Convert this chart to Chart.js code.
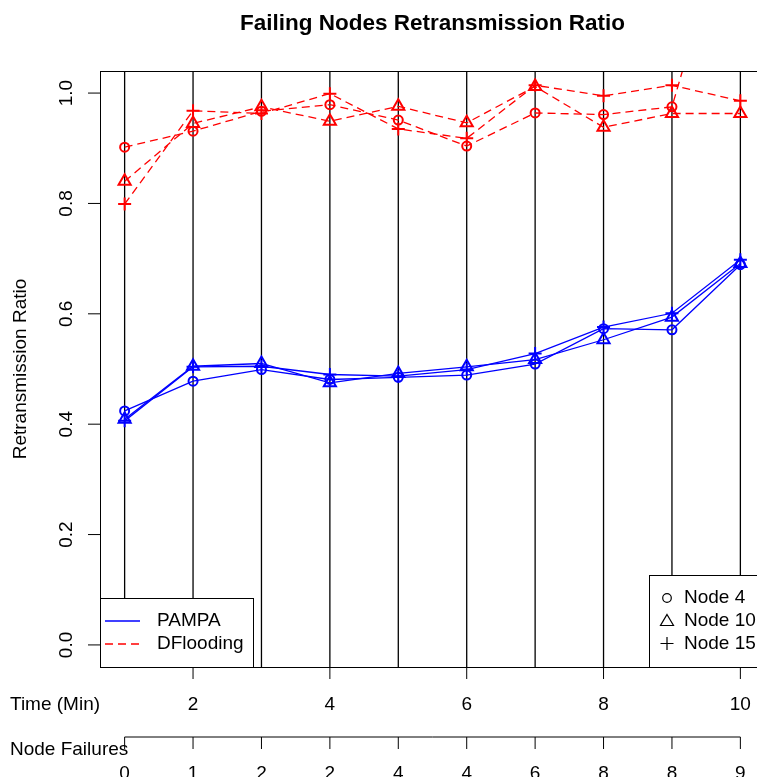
<!DOCTYPE html>
<html>
<head>
<meta charset="utf-8">
<title>Failing Nodes Retransmission Ratio</title>
<script src="https://cdn.jsdelivr.net/npm/chart.js@4.4.1/dist/chart.umd.min.js"></script>
<style>
  html, body { margin: 0; padding: 0; background: #fff; overflow: hidden; }
  #wrap { width: 800px; height: 777px; }
</style>
</head>
<body>
<div id="wrap"><canvas id="chart" width="800" height="777"></canvas></div>
<script>
// x positions (minutes) and the node-failure count shown under each minute
const timeMin      = [1, 2, 3, 4, 5, 6, 7, 8, 9, 10];
const nodeFailures = ['0', '1', '2', '2', '4', '4', '6', '8', '8', '9'];
const timeTicks    = [2, 4, 6, 8, 10];
const ratioTicks   = [0.0, 0.2, 0.4, 0.6, 0.8, 1.0];

// PAMPA (solid blue)
const pampaNode4  = [0.424, 0.478, 0.499, 0.481, 0.485, 0.489, 0.509, 0.573, 0.571, 0.689];
const pampaNode10 = [0.409, 0.505, 0.510, 0.475, 0.492, 0.504, 0.517, 0.553, 0.594, 0.691];
const pampaNode15 = [0.406, 0.504, 0.505, 0.490, 0.487, 0.499, 0.528, 0.576, 0.601, 0.698];

// DFlooding (dashed red)
const dfloodNode4  = [0.902, 0.931, 0.967, 0.979, 0.951, 0.904, 0.964, 0.961, 0.975, 1.400];
const dfloodNode10 = [0.840, 0.945, 0.975, 0.949, 0.976, 0.946, 1.012, 0.938, 0.963, 0.963];
const dfloodNode15 = [0.799, 0.968, 0.963, 0.999, 0.935, 0.918, 1.014, 0.995, 1.014, 0.986];

const FONT = "'Liberation Sans', Arial, Helvetica, sans-serif";
const BLUE = '#0000ff';
const RED  = '#ff0000';

function series(label, values, color, dashed, style, radius) {
  return {
    label,
    data: values.map((v, i) => ({ x: timeMin[i], y: v })),
    borderColor: color,
    borderWidth: 1.3,
    borderDash: dashed ? [8, 5] : [],
    pointStyle: style,
    pointRadius: radius,
    pointBorderColor: color,
    pointBackgroundColor: 'rgba(0,0,0,0)',
    pointBorderWidth: 2,
    tension: 0,
    fill: false
  };
}

// R-style frame, axes, titles and legends
const rFrame = {
  id: 'rFrame',
  beforeDatasetsDraw(chart) {
    const { ctx, chartArea: a, scales: { x } } = chart;
    ctx.save();
    ctx.strokeStyle = '#000';
    ctx.lineWidth = 1.3;
    timeMin.forEach(t => {
      const px = x.getPixelForValue(t);
      ctx.beginPath(); ctx.moveTo(px, a.top); ctx.lineTo(px, a.bottom); ctx.stroke();
    });
    ctx.restore();
  },
  afterDraw(chart) {
    const { ctx, chartArea: a, scales: { x, y } } = chart;
    ctx.save();
    ctx.strokeStyle = '#000';
    ctx.fillStyle = '#000';
    ctx.lineWidth = 1;

    // box
    ctx.strokeRect(a.left + 0.5, a.top + 0.5, a.right - a.left, a.bottom - a.top);

    // y axis ticks + rotated labels
    ctx.font = `19px ${FONT}`;
    ratioTicks.forEach(v => {
      const py = y.getPixelForValue(v);
      ctx.beginPath(); ctx.moveTo(a.left, py); ctx.lineTo(a.left - 12, py); ctx.stroke();
      ctx.save();
      ctx.translate(72, py);
      ctx.rotate(-Math.PI / 2);
      ctx.textAlign = 'center';
      ctx.textBaseline = 'alphabetic';
      ctx.fillText(v.toFixed(1), 0, 0);
      ctx.restore();
    });

    // time axis
    ctx.textAlign = 'center';
    ctx.textBaseline = 'alphabetic';
    timeTicks.forEach(t => {
      const px = x.getPixelForValue(t);
      ctx.beginPath(); ctx.moveTo(px, a.bottom); ctx.lineTo(px, a.bottom + 12); ctx.stroke();
      ctx.fillText(String(t), px, 710);
    });
    ctx.textAlign = 'left';
    ctx.fillText('Time (Min)', 10, 709.5);

    // node failures axis
    const x0 = x.getPixelForValue(timeMin[0]);
    const x1 = x.getPixelForValue(timeMin[timeMin.length - 1]);
    ctx.beginPath(); ctx.moveTo(x0, 737); ctx.lineTo(x1, 737); ctx.stroke();
    ctx.textAlign = 'center';
    timeMin.forEach((t, i) => {
      const px = x.getPixelForValue(t);
      ctx.beginPath(); ctx.moveTo(px, 737); ctx.lineTo(px, 749); ctx.stroke();
      ctx.fillText(nodeFailures[i], px, 779);
    });
    ctx.textAlign = 'left';
    ctx.fillText('Node Failures', 10, 754.5);

    // y title
    ctx.save();
    ctx.translate(26, (a.top + a.bottom) / 2);
    ctx.rotate(-Math.PI / 2);
    ctx.textAlign = 'center';
    ctx.fillText('Retransmission Ratio', 0, 0);
    ctx.restore();

    // main title
    ctx.font = `bold 22.5px ${FONT}`;
    ctx.textAlign = 'center';
    ctx.textBaseline = 'middle';
    ctx.fillText('Failing Nodes Retransmission Ratio', (a.left + a.right) / 2, 24);

    // left legend (methods)
    ctx.font = `19px ${FONT}`;
    ctx.fillStyle = '#fff';
    ctx.fillRect(a.left, 598, 153, a.bottom - 598);
    ctx.strokeRect(a.left + 0.5, 598.5, 153, a.bottom - 598);
    ctx.lineWidth = 1.3;
    ctx.strokeStyle = BLUE;
    ctx.beginPath(); ctx.moveTo(105, 621); ctx.lineTo(140, 621); ctx.stroke();
    ctx.strokeStyle = RED;
    ctx.setLineDash([8, 5]);
    ctx.beginPath(); ctx.moveTo(105, 644); ctx.lineTo(140, 644); ctx.stroke();
    ctx.setLineDash([]);
    ctx.fillStyle = '#000';
    ctx.textAlign = 'left';
    ctx.textBaseline = 'middle';
    ctx.fillText('PAMPA', 157, 621);
    ctx.fillText('DFlooding', 157, 644);

    // right legend (nodes)
    ctx.fillStyle = '#fff';
    ctx.fillRect(649, 575, 160, a.bottom - 575);
    ctx.strokeStyle = '#000';
    ctx.lineWidth = 1;
    ctx.strokeRect(649.5, 575.5, 160, a.bottom - 575);
    ctx.lineWidth = 1.2;
    const sx = 667;
    ctx.beginPath(); ctx.arc(sx, 598, 4.3, 0, Math.PI * 2); ctx.stroke();
    ctx.beginPath();
    ctx.moveTo(sx, 614.5); ctx.lineTo(sx + 6.5, 625.5); ctx.lineTo(sx - 6.5, 625.5); ctx.closePath();
    ctx.stroke();
    ctx.beginPath();
    ctx.moveTo(sx - 6.5, 643.5); ctx.lineTo(sx + 6.5, 643.5);
    ctx.moveTo(sx, 637); ctx.lineTo(sx, 650);
    ctx.stroke();
    ctx.fillStyle = '#000';
    ctx.fillText('Node 4', 684, 598);
    ctx.fillText('Node 10', 684, 621);
    ctx.fillText('Node 15', 684, 643.5);

    ctx.restore();
  }
};

new Chart(document.getElementById('chart'), {
  type: 'line',
  data: {
    datasets: [
      series('PAMPA Node 4',      pampaNode4,   BLUE, false, 'circle',   4.5),
      series('PAMPA Node 10',     pampaNode10,  BLUE, false, 'triangle', 7),
      series('PAMPA Node 15',     pampaNode15,  BLUE, false, 'cross',    6.5),
      series('DFlooding Node 4',  dfloodNode4,  RED,  true,  'circle',   4.5),
      series('DFlooding Node 10', dfloodNode10, RED,  true,  'triangle', 7),
      series('DFlooding Node 15', dfloodNode15, RED,  true,  'cross',    6.5)
    ]
  },
  options: {
    responsive: false,
    animation: false,
    layout: { padding: { left: 100, top: 71, right: 35, bottom: 110 } },
    plugins: {
      legend: { display: false },
      tooltip: { enabled: false },
      title: { display: false }
    },
    scales: {
      x: { type: 'linear', min: 0.64, max: 10.36, display: false },
      y: { type: 'linear', min: -0.04, max: 1.04, display: false }
    }
  },
  plugins: [rFrame]
});
</script>
</body>
</html>
